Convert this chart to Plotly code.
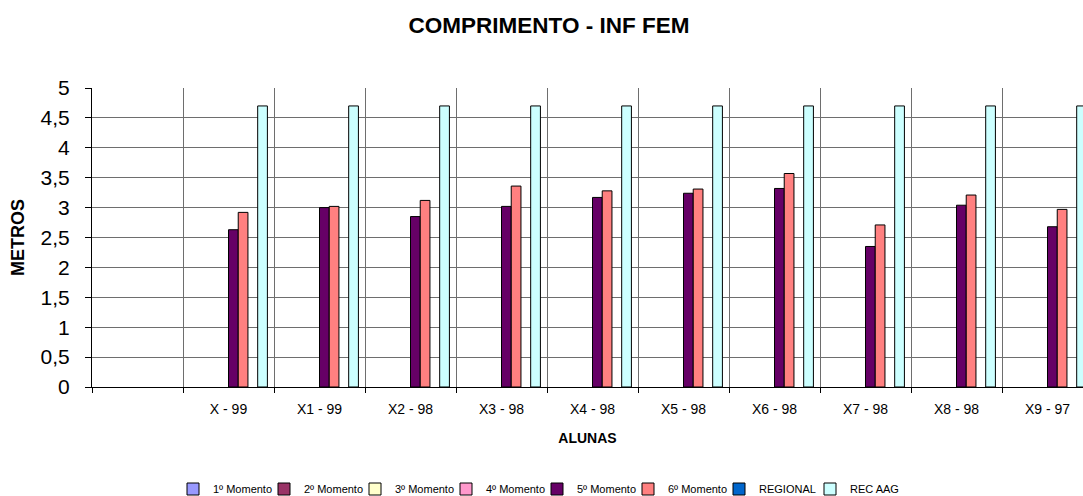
import plotly.graph_objects as go

categories = [" ", "X - 99", "X1 - 99", "X2 - 98", "X3 - 98", "X4 - 98",
              "X5 - 98", "X6 - 98", "X7 - 98", "X8 - 98", "X9 - 97"]

series_names = ["1º Momento", "2º Momento", "3º Momento", "4º Momento",
                "5º Momento", "6º Momento", "REGIONAL", "REC AAG"]

m1 = [None] * 11
m2 = [None] * 11
m3 = [None] * 11
m4 = [None] * 11
m5 = [None, 2.63, 3.00, 2.85, 3.02, 3.17, 3.24, 3.32, 2.35, 3.04, 2.68]
m6 = [None, 2.92, 3.02, 3.12, 3.36, 3.28, 3.31, 3.57, 2.71, 3.21, 2.97]
regional = [None] * 11
rec_aag = [None, 4.7, 4.7, 4.7, 4.7, 4.7, 4.7, 4.7, 4.7, 4.7, 4.7]

colors = ["#9999FF", "#993366", "#FFFFCC", "#FF99CC",
          "#660066", "#FF8080", "#0066CC", "#CCFFFF"]

values = [m1, m2, m3, m4, m5, m6, regional, rec_aag]

FONT = "Liberation Sans, Arial, sans-serif"

W, H = 1083, 496

fig = go.Figure()
for name, vals, col in zip(series_names, values, colors):
    fig.add_trace(go.Bar(
        x=categories, y=vals, name=name,
        marker=dict(color=col, line=dict(color="#000000", width=1)),
        hoverinfo="skip",
    ))

fig.update_layout(
    width=W, height=H,
    paper_bgcolor="white", plot_bgcolor="white",
    separators=",.",
    barmode="group", bargap=0.145, bargroupgap=0,
    margin=dict(l=92, r=0, t=88, b=109, autoexpand=False),
    font=dict(family=FONT, color="#000000"),
    title=dict(text="<b>COMPRIMENTO - INF FEM</b>", x=549 / W, xanchor="center",
               y=1 - 25 / H, yanchor="middle",
               font=dict(size=22.5, family=FONT, color="#000000")),
    showlegend=True,
    legend=dict(orientation="h", x=(537 - 92) / (W - 92), xanchor="center",
                y=-102 / 299, yanchor="middle",
                font=dict(size=11, family=FONT),
                itemwidth=30, tracegroupgap=0,
                entrywidth=46, entrywidthmode="pixels",
                itemclick=False, itemdoubleclick=False),
)

fig.update_xaxes(
    type="category",
    range=[-0.5, 10.39],
    tickson="boundaries",
    ticks="outside", ticklen=5, tickcolor="#000000",
    showline=True, linecolor="#000000", linewidth=1,
    showgrid=True, gridcolor="#6e6e6e", gridwidth=1,
    tickfont=dict(size=14, family=FONT),
    ticklabelstandoff=9,
    automargin=False,
    title=dict(text="<b>ALUNAS</b>", font=dict(size=14, family=FONT), standoff=17),
    fixedrange=True,
)

fig.update_yaxes(
    range=[0, 5], dtick=0.5, tick0=0,
    ticks="outside", ticklen=6, tickcolor="#000000",
    showline=True, linecolor="#000000", linewidth=1,
    showgrid=True, gridcolor="#6e6e6e", gridwidth=1,
    zeroline=False,
    tickfont=dict(size=21, family=FONT),
    ticklabelstandoff=11,
    automargin=False,
    title=dict(text="<b>METROS</b>", font=dict(size=18, family=FONT), standoff=11),
    fixedrange=True,
)

fig.write_html(
    "out.html",
    config={"displayModeBar": False},
    post_script="document.body.style.margin='0px';document.body.style.overflow='hidden';",
)
